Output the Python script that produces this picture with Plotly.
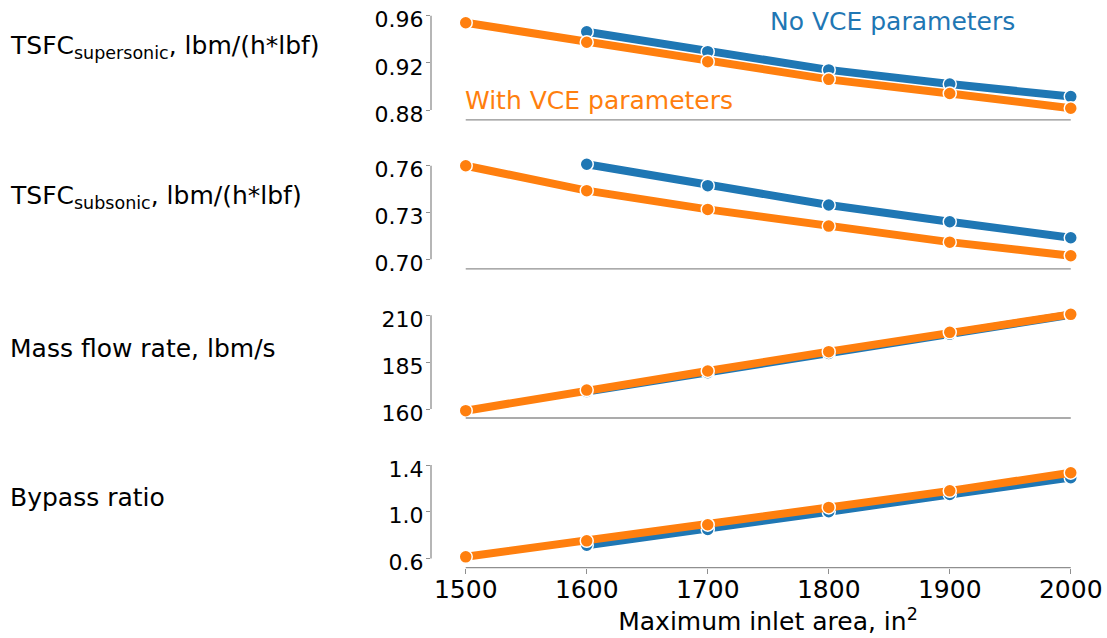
import plotly.graph_objects as go

# ---------------- data ----------------
inlet_area = [1500, 1600, 1700, 1800, 1900, 2000]
inlet_area_no_vce = [1600, 1700, 1800, 1900, 2000]

tsfc_sup_with = [0.954, 0.9375, 0.921, 0.906, 0.894, 0.8815]
tsfc_sup_no = [0.9464, 0.9295, 0.914, 0.902, 0.8914]

tsfc_sub_with = [0.760, 0.744, 0.732, 0.7213, 0.711, 0.7023]
tsfc_sub_no = [0.7609, 0.7472, 0.7348, 0.7241, 0.7138]

mass_with = [159.1, 170.1, 180.3, 190.6, 200.9, 210.5]
mass_no = [169.3, 179.4, 189.6, 199.9, 210.3]

bpr_with = [0.6145, 0.751, 0.889, 1.037, 1.179, 1.334]
bpr_no = [0.714, 0.849, 1.0, 1.148, 1.292]

panel_labels = [
    "TSFC<sub>supersonic</sub>, lbm/(h*lbf)",
    "TSFC<sub>subsonic</sub>, lbm/(h*lbf)",
    "Mass flow rate, lbm/s",
    "Bypass ratio",
]
y_ticks = [
    [0.88, 0.92, 0.96],
    [0.70, 0.73, 0.76],
    [160, 185, 210],
    [0.6, 1.0, 1.4],
]
y_formats = [".2f", ".2f", "d", ".1f"]
x_ticks = [1500, 1600, 1700, 1800, 1900, 2000]
series_no = [tsfc_sup_no, tsfc_sub_no, mass_no, bpr_no]
series_with = [tsfc_sup_with, tsfc_sub_with, mass_with, bpr_with]

# ---------------- layout geometry ----------------
W, H = 1107, 638
ML, MR, MT, MB = 431, 2, 0, 70
PH = H - MT - MB
panel_bottom_px = [119.8, 268.8, 418.0, 567.7]
panel_top_px = [10.0, 159.0, 308.0, 458.0]
y_ranges = [
    [0.8717, 0.9648],
    [0.69391, 0.7643],
    [155.2, 213.9],
    [0.5214, 1.46],
]
label_center_px = [47, 197, 348, 497]

BLUE = "#1f77b4"
ORANGE = "#ff7f0e"
FONT = "DejaVu Sans"
SPINE = "#8f8f8f"

fig = go.Figure()
shapes = []
annotations = []

for i in range(4):
    yname = "y" if i == 0 else f"y{i+1}"
    for xs, ys, col in [(inlet_area_no_vce, series_no[i], BLUE),
                        (inlet_area, series_with[i], ORANGE)]:
        fig.add_trace(go.Scatter(
            x=xs, y=ys, xaxis="x", yaxis=yname, mode="lines+markers",
            line=dict(color=col, width=8),
            marker=dict(color=col, size=13, line=dict(color="white", width=1.5)),
            showlegend=False, cliponaxis=False, hoverinfo="skip",
        ))
    dom = [(PH - panel_bottom_px[i]) / PH, (PH - panel_top_px[i]) / PH]
    key = "yaxis" if i == 0 else f"yaxis{i+1}"
    fig.layout[key] = dict(
        domain=dom, anchor="x", range=y_ranges[i], automargin=False,
        tickvals=y_ticks[i], tickformat=y_formats[i],
        ticks="outside", ticklen=4, tickwidth=1.2, tickcolor=SPINE,
        ticklabelshift=4, ticklabelstandoff=-2, ticklabeloverflow="allow",
        showgrid=False, zeroline=False, showline=False,
        tickfont=dict(family=FONT, size=22, color="black"),
    )
    # trimmed left spine
    shapes.append(dict(type="line", xref="paper", yref=yname,
                       x0=0, x1=0, y0=min(y_ticks[i]), y1=max(y_ticks[i]),
                       line=dict(color=SPINE, width=1.3)))
    # trimmed bottom spine
    shapes.append(dict(type="line", xref="x", yref=f"{yname} domain",
                       x0=min(x_ticks), x1=max(x_ticks), y0=0, y1=0,
                       line=dict(color=SPINE, width=1.3)))
    annotations.append(dict(
        text=panel_labels[i], xref="paper", yref="paper",
        x=(8 - ML) / (W - ML - MR), y=(PH - label_center_px[i]) / PH,
        xanchor="left", yanchor="middle", showarrow=False,
        font=dict(family=FONT, size=25, color="black"),
    ))

annotations.append(dict(text="No VCE parameters", xref="x", yref="y",
                        x=1750, y=0.9549, xanchor="left", yanchor="middle",
                        showarrow=False, font=dict(family=FONT, size=25, color=BLUE)))
annotations.append(dict(text="With VCE parameters", xref="x", yref="y",
                        x=1498, y=0.8880, xanchor="left", yanchor="middle",
                        showarrow=False, font=dict(family=FONT, size=25, color=ORANGE)))

fig.update_layout(
    width=W, height=H,
    margin=dict(l=ML, r=MR, t=MT, b=MB, autoexpand=False),
    plot_bgcolor="white", paper_bgcolor="white",
    hovermode=False,
    xaxis=dict(
        domain=[0, 1], anchor="y4", range=[1471.3, 2028.3], automargin=False,
        tickvals=x_ticks, ticks="outside", ticklen=5, tickwidth=1.2, tickcolor=SPINE,
        ticklabelstandoff=-6, ticklabeloverflow="allow",
        showgrid=False, zeroline=False, showline=False,
        tickfont=dict(family=FONT, size=25, color="black"),
        title=dict(text="Maximum inlet area, in<sup>2</sup>",
                   font=dict(family=FONT, size=25, color="black"), standoff=9),
    ),
    shapes=shapes,
    annotations=annotations,
)

fig.write_html("out.html", config={"displayModeBar": False},
               post_script="document.body.style.margin='0';")
